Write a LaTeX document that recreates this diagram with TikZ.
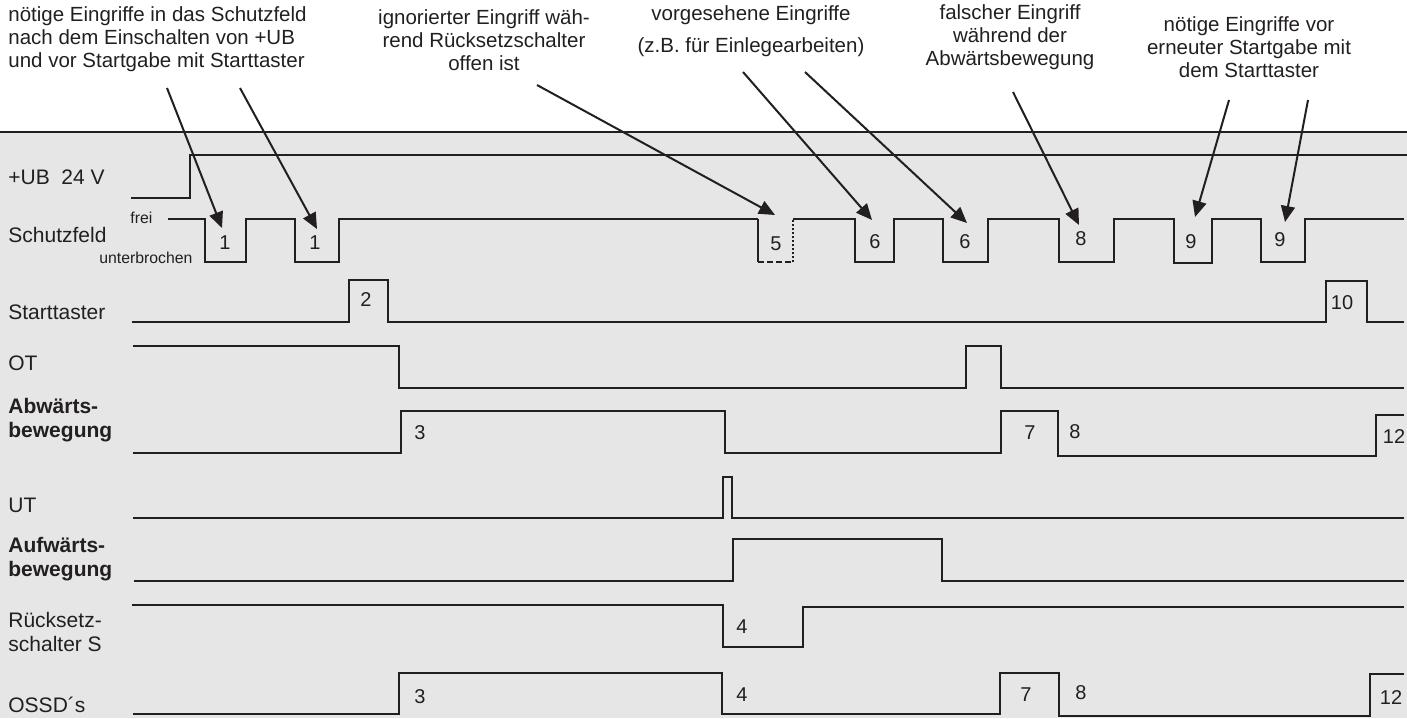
\documentclass[tikz,border=0pt]{standalone}
\usepackage{fontspec}
\setmainfont{Liberation Sans}
\usetikzlibrary{arrows.meta}
\definecolor{ink}{HTML}{231F20}
\definecolor{panel}{HTML}{E6E6E6}
\begin{document}
\begin{tikzpicture}[x=0.5pt,y=-0.5pt,
  sig/.style={draw=ink, line width=1pt, line join=miter},
  lbl/.style={anchor=west, inner sep=0pt, font=\fontsize{10.5}{12}\selectfont, text=ink, align=left},
  blbl/.style={lbl, font=\fontsize{10.5}{12}\selectfont\bfseries},
  num/.style={inner sep=0pt, font=\fontsize{10}{12}\selectfont, text=ink},
  small/.style={inner sep=0pt, font=\fontsize{7.9}{9}\selectfont, text=ink},
  annot/.style={inner sep=0pt, font=\fontsize{10.25}{11.5}\selectfont, text=ink, align=center},
  ptr/.style={draw=ink, line width=1pt, -{Triangle[length=8pt,width=7pt]}},
]
\useasboundingbox (0,0) rectangle (1407,718);
\fill[panel] (0,132) rectangle (1407,718);
\draw[ink, line width=0.7pt] (0,132) -- (1407,132);

% annotations
\node[annot, align=left, anchor=west] (a1) at (8,39) {nötige Eingriffe in das Schutzfeld\\nach dem Einschalten von +UB\\und vor Startgabe mit Starttaster};
\node[annot] (a2) at (484,40) {ignorierter Eingriff wäh-\\rend Rücksetzschalter\\offen ist};
\node[annot] (a3) at (751,31) {vorgesehene Eingriffe\\[4.5pt](z.B. für Einlegearbeiten)};
\node[annot] (a4) at (1010,37) {falscher Eingriff\\während der\\Abwärtsbewegung};
\node[annot] (a5) at (1249,47) {nötige Eingriffe vor\\erneuter Startgabe mit\\dem Starttaster};

% row labels
\node[lbl] (lub) at (8,177) {+UB\ \ 24 V};
\node[lbl] (lsf) at (8,235) {Schutzfeld};
\node[small, anchor=west] (lfrei) at (130,218) {frei};
\node[small, anchor=west] (lunt) at (99,258) {unterbrochen};
\node[lbl] (lst) at (8,312) {Starttaster};
\node[lbl] (lot) at (8,363) {OT};
\node[blbl] (lab) at (8,420) {Abwärts-\\bewegung};
\node[lbl] (lut) at (8,505) {UT};
\node[blbl] (lau) at (8,559) {Aufwärts-\\bewegung};
\node[lbl] (lrs) at (8,632) {Rücksetz-\\schalter S};
\node[lbl] (los) at (8,705) {OSSD´s};

% signals
\draw[sig] (131,198) -- (190,198) -- (190,155) -- (1407,155);
\draw[sig] (168,219) -- (205,219) -- (205,262) -- (246,262) -- (246,219) -- (295,219) -- (295,262) -- (339,262) -- (339,219) -- (758,219);
\draw[ink, line width=0.6pt] (758,219) -- (758,262);
\draw[ink, line width=1pt, dash pattern=on 3pt off 1.5pt] (758,262) -- (793,262);
\draw[ink, line width=1pt, dash pattern=on 1pt off 1pt] (793,262) -- (793,219);
\draw[sig] (793,219) -- (855,219) -- (855,262) -- (894,262) -- (894,219) -- (943,219) -- (943,262) -- (988,262) -- (988,219) -- (1059,219) -- (1059,262) -- (1114,262) -- (1114,219) -- (1174,219) -- (1174,263) -- (1212,263) -- (1212,219) -- (1261,219) -- (1261,262) -- (1305,262) -- (1305,219) -- (1404,219);
\draw[sig] (132,322) -- (349,322) -- (349,280) -- (388,280) -- (388,322) -- (1326,322) -- (1326,281) -- (1367,281) -- (1367,322) -- (1404,322);
\draw[sig] (133,346) -- (399,346) -- (399,388) -- (966,388) -- (966,346) -- (1001,346) -- (1001,388) -- (1404,388);
\draw[sig] (133,453) -- (401,453) -- (401,411) -- (725,411) -- (725,453) -- (1001,453) -- (1001,411) -- (1058,411) -- (1058,456) -- (1376,456) -- (1376,415) -- (1404,415);
\draw[sig] (133,518) -- (723,518) -- (723,477) -- (732,477) -- (732,518) -- (1404,518);
\draw[sig] (134,581) -- (733,581) -- (733,539) -- (942,539) -- (942,581) -- (1404,581);
\draw[sig] (132,605) -- (723,605) -- (723,647) -- (803,647) -- (803,607) -- (1404,607);
\draw[sig] (133,714) -- (399,714) -- (399,673) -- (722,673) -- (722,714) -- (1000,714) -- (1000,673) -- (1059,673) -- (1059,716) -- (1370,716) -- (1370,674) -- (1404,674);

% numbers
\node[num] (n1a) at (225,243) {1};
\node[num] (n1b) at (315,243) {1};
\node[num] (n2) at (366,300) {2};
\node[num] (n5) at (776,244) {5};
\node[num] (n6a) at (875,242) {6};
\node[num] (n6b) at (965,242) {6};
\node[num] (n8a) at (1081,239) {8};
\node[num] (n9a) at (1191,242) {9};
\node[num] (n9b) at (1280,240) {9};
\node[num] (n10) at (1342,303) {10};
\node[num] (n3a) at (420,433) {3};
\node[num] (n7a) at (1030,433) {7};
\node[num] (n8b) at (1075,432) {8};
\node[num] (n12a) at (1394,437) {12};
\node[num] (n4a) at (742,627) {4};
\node[num] (n3b) at (420,697) {3};
\node[num] (n4b) at (742,695) {4};
\node[num] (n7b) at (1026,695) {7};
\node[num] (n8c) at (1081,693) {8};
\node[num] (n12b) at (1391,698) {12};

% pointer coordinates
\coordinate (s1) at (167,88);  \coordinate (t1) at (222,228);
\coordinate (s2) at (240,88);  \coordinate (t2) at (317,229);
\coordinate (s5) at (537,85);  \coordinate (t5) at (775,215);
\coordinate (s6) at (743,72);  \coordinate (t6) at (872,220);
\coordinate (s7) at (805,72);  \coordinate (t7) at (967,223);
\coordinate (s8) at (1013,92); \coordinate (t8) at (1079,225);
\coordinate (s9) at (1229,100); \coordinate (t9) at (1195,217);
\coordinate (s10) at (1308,100); \coordinate (t10) at (1285,222);
\foreach \i in {1,2,5,6,7,8,9,10} \draw[ptr] (s\i) -- (t\i);
\end{tikzpicture}
\end{document}
